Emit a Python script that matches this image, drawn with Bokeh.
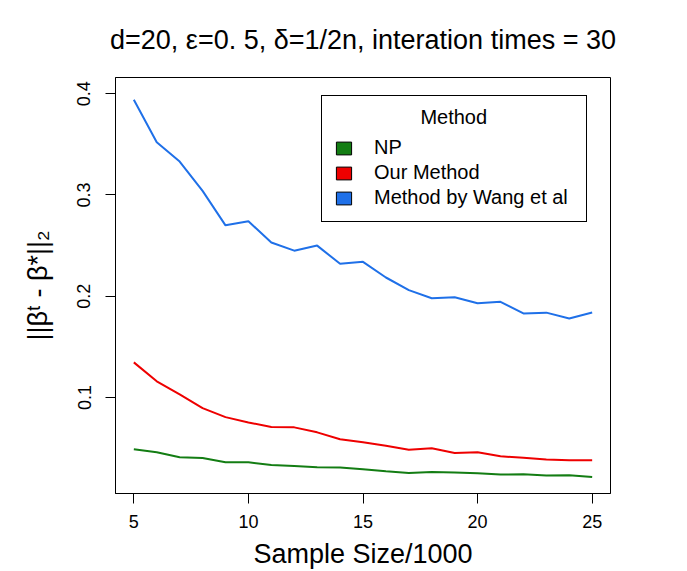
from bokeh.plotting import figure
from bokeh.models import Range1d, FixedTicker, Legend, LegendItem, ColumnDataSource
from bokeh.core.properties import value
from bokeh.embed import file_html
from bokeh.resources import INLINE

# ---- data ----
sample_size = [5, 6, 7, 8, 9, 10, 11, 12, 13, 14, 15, 16, 17, 18, 19, 20, 21, 22, 23, 24, 25]
np_err = [0.0488, 0.0459, 0.0410, 0.0403, 0.0360, 0.0360, 0.0334, 0.0324, 0.0311, 0.0308, 0.0291,
          0.0272, 0.0255, 0.0265, 0.0259, 0.0252, 0.0239, 0.0242, 0.0229, 0.0232, 0.0216]
our_err = [0.1347, 0.1160, 0.1030, 0.0895, 0.0806, 0.0754, 0.0708, 0.0705, 0.0656, 0.0587, 0.0557,
           0.0524, 0.0485, 0.0498, 0.0452, 0.0459, 0.0419, 0.0406, 0.0387, 0.0380, 0.0380]
wang_err = [0.394, 0.352, 0.333, 0.304, 0.270, 0.274, 0.253, 0.245, 0.250, 0.232, 0.234,
            0.2185, 0.206, 0.198, 0.199, 0.193, 0.1945, 0.183, 0.1838, 0.178, 0.184]
series_names = ["NP", "Our Method", "Method by Wang et al"]
series_colors = ["#137D13", "#EE0000", "#1F70E8"]
x_ticks = [5, 10, 15, 20, 25]
y_ticks = [0.1, 0.2, 0.3, 0.4]
title_text = "d=20, \u03b5=0. 5, \u03b4=1/2n, interation times = 30"
x_label = "Sample Size/1000"
y_label = "||\u03b2\u1d57 - \u03b2*||\u2082"
legend_title = "Method"

FONT = "Liberation Sans"
X0, X1 = 4.2, 25.8
Y0, Y1 = 0.0052, 0.416

p = figure(width=687, height=571, output_backend="svg", toolbar_location=None,
           x_range=Range1d(X0, X1), y_range=Range1d(Y0, Y1),
           min_border_left=115, min_border_right=77, min_border_top=76, min_border_bottom=78,
           title=title_text)
p.background_fill_color = "white"
p.border_fill_color = "white"
p.outline_line_color = "black"
p.outline_line_width = 1
p.grid.visible = False

p.title.align = "center"
p.title.text_font = FONT
p.title.text_font_size = "27px"
p.title.text_font_style = "normal"
p.title.text_color = "black"
p.title.standoff = 45

for ax in (p.xaxis[0], p.yaxis[0]):
    ax.axis_line_color = "black"
    ax.major_tick_line_color = "black"
    ax.major_tick_out = 10
    ax.major_tick_in = 0
    ax.minor_tick_line_color = None
    ax.major_label_text_font = FONT
    ax.major_label_text_font_size = "18px"
    ax.major_label_text_color = "black"
    ax.axis_label_text_font = FONT
    ax.axis_label_text_font_size = "27px"
    ax.axis_label_text_font_style = "normal"
    ax.axis_label_text_color = "black"

p.xaxis.ticker = FixedTicker(ticks=x_ticks)
p.yaxis.ticker = FixedTicker(ticks=y_ticks)
p.xaxis.axis_label = x_label
p.yaxis.axis_label = y_label
p.xaxis.major_label_standoff = 11
p.xaxis.axis_label_standoff = 8
p.yaxis.major_label_standoff = 15
p.yaxis.major_label_orientation = "vertical"
p.yaxis.axis_label_standoff = 22

series = [np_err, our_err, wang_err]
items = []
for name, vals, col in zip(series_names, series, series_colors):
    src = ColumnDataSource(dict(x=sample_size, y=vals))
    p.line("x", "y", source=src, line_color=col, line_width=2)
    nan = float("nan")
    key = p.quad(left=[nan], right=[nan], top=[nan], bottom=[nan],
                 fill_color=col, line_color="black", line_width=1)
    items.append(LegendItem(label=name, renderers=[key]))

# centred legend heading (R draws the legend title centred in the box)
head_src = ColumnDataSource(dict(x=[18.96], y=[0.3766], t=[legend_title]))
p.text(x="x", y="y", text="t", source=head_src, text_font=value(FONT), text_font_size="20px",
       text_color="black", text_align="center", text_baseline="middle")

legend = Legend(items=items, location=(206, 271), title=" ")
legend.padding = 12
legend.spacing = 2
legend.glyph_width = 19
legend.glyph_height = 16
legend.label_standoff = 21
legend.label_width = 200
legend.label_height = 20
legend.label_text_font = FONT
legend.label_text_font_size = "20px"
legend.label_text_color = "black"
legend.title_text_font = FONT
legend.title_text_font_size = "20px"
legend.title_text_font_style = "normal"
legend.title_standoff = 5
legend.border_line_color = "black"
legend.border_line_alpha = 1
legend.border_line_width = 1
legend.background_fill_alpha = 0
p.add_layout(legend, "center")

open("out.html", "w").write(file_html(p, INLINE))
